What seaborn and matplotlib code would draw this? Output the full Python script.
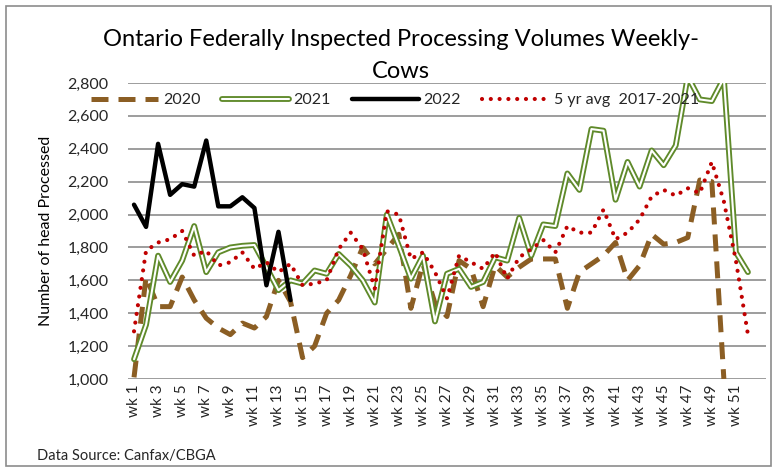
import numpy as np
import pandas as pd
import matplotlib
matplotlib.use("Agg")
import matplotlib.pyplot as plt
from matplotlib.lines import Line2D
from matplotlib.patches import Rectangle
from matplotlib.legend_handler import HandlerTuple
from matplotlib.ticker import FuncFormatter
import seaborn as sns

# weekly volumes (head)
vol_2020 = [1010, 1620, 1440, 1440, 1620, 1480, 1370, 1310, 1270, 1340,
            1310, 1380, 1600, 1470, 1130, 1200, 1400, 1480, 1630, 1800,
            1700, 1790, 1880, 1430, 1700, 1460, 1380, 1720, 1670, 1440,
            1690, 1620, 1680, 1730, 1730, 1730, 1430, 1650, 1700, 1750,
            1830, 1600, 1690, 1880, 1820, 1830, 1860, 2210, 2200, 1000]
vol_2021 = [1120, 1330, 1750, 1590, 1720, 1930, 1650, 1770, 1800, 1810,
            1815, 1680, 1540, 1600, 1580, 1660, 1640, 1760, 1690, 1600,
            1465, 2000, 1810, 1610, 1750, 1350, 1640, 1670, 1560, 1590,
            1740, 1720, 1980, 1750, 1940, 1930, 2250, 2150, 2520, 2510,
            2090, 2320, 2170, 2390, 2300, 2420, 2840, 2700, 2690, 2830,
            1770, 1650]
vol_2022 = [2060, 1925, 2430, 2120, 2185, 2170, 2450, 2050, 2050, 2105,
            2040, 1570, 1895, 1480]
avg_5yr = [1290, 1780, 1830, 1850, 1900, 1750, 1780, 1690, 1710, 1770,
           1670, 1710, 1650, 1700, 1570, 1580, 1600, 1790, 1890, 1790,
           1550, 2020, 2000, 1730, 1770, 1650, 1490, 1750, 1710, 1670,
           1770, 1610, 1740, 1790, 1845, 1770, 1930, 1890, 1890, 2030,
           1850, 1890, 1970, 2110, 2150, 2115, 2160, 2130, 2320, 2080,
           1720, 1270]
week_labels = [f"wk {i}" for i in range(1, 53)]

sns.set_theme(style="white")
plt.rcParams['font.family'] = ['Lato', 'DejaVu Sans']

W, H = 777, 468
fig = plt.figure(figsize=(W / 100, H / 100), dpi=100)
ax = fig.add_axes([128 / W, 1 - 379 / H, (766 - 128) / W, (379 - 83) / H])

brown = '#8B5E24'
green = '#5F8A2A'
red = '#C00000'

sns.lineplot(x=np.arange(len(vol_2020)), y=vol_2020, ax=ax, color=brown, lw=3.6,
             linestyle=(0, (3.4, 2.0)), dash_capstyle='butt', zorder=3)
sns.lineplot(x=np.arange(len(vol_2021)), y=vol_2021, ax=ax, color=green, lw=4.2,
             zorder=4)
sns.lineplot(x=np.arange(len(vol_2021)), y=vol_2021, ax=ax, color='white', lw=1.5,
             zorder=4.1)
sns.lineplot(x=np.arange(len(vol_2022)), y=vol_2022, ax=ax, color='black', lw=3.2,
             zorder=5)
sns.lineplot(x=np.arange(len(avg_5yr)), y=avg_5yr, ax=ax, color=red, lw=3.0,
             linestyle=(0, (0.01, 2.1)), dash_capstyle='round', zorder=6)

ax.set_xlim(-0.5, 52.5)
ax.set_ylim(1000, 2800)
ax.set_yticks(np.arange(1000, 2801, 200))
ax.yaxis.set_major_formatter(FuncFormatter(lambda v, p: f"{int(v):,}"))
ax.set_xticks(np.arange(0, 52, 2))
ax.set_xticklabels(week_labels[::2], rotation=90, fontsize=11, color='#262626')
ax.tick_params(axis='y', labelsize=11.5, labelcolor='#262626', length=0, pad=14)
ax.tick_params(axis='x', length=0, pad=4)
ax.grid(axis='y', color='#8C8C8C', lw=1.2)
ax.grid(axis='x', visible=False)
ax.set_axisbelow(True)
sns.despine(ax=ax, left=True, bottom=True)
ax.set_xlabel('')
ax.set_ylabel('Number of head Processed', fontsize=11.5, color='#000000', labelpad=10)

fig.text(401 / W, 1 - 40 / H, 'Ontario Federally Inspected Processing Volumes Weekly-',
         ha='center', va='center', fontsize=17, color='#000000')
fig.text(401 / W, 1 - 72 / H, 'Cows', ha='center', va='center', fontsize=17,
         color='#000000')

h2020 = Line2D([], [], color=brown, lw=3.6, linestyle=(0, (3.4, 2.0)))
h2021 = (Line2D([], [], color=green, lw=4.2), Line2D([], [], color='white', lw=1.5))
h2022 = Line2D([], [], color='black', lw=3.2)
havg = Line2D([], [], color=red, lw=3.0, linestyle=(0, (0.01, 2.1)),
              dash_capstyle='round')
fig.legend([h2020, h2021, h2022, havg], ['2020', '2021', '2022', '5 yr avg  2017-2021'],
           handler_map={tuple: HandlerTuple(ndivide=1)},
           loc='center left', bbox_to_anchor=(85 / W, 1 - 100 / H), ncol=4,
           frameon=False, fontsize=11.5, handlelength=4.2, handletextpad=0.3,
           columnspacing=1.3, borderaxespad=0)

fig.text(37 / W, 1 - 456 / H, 'Data Source: Canfax/CBGA', ha='left', va='center',
         fontsize=10.5, color='#262626')

fig.patches.append(Rectangle((6 / W, 2 / H), 765 / W, 460 / H, transform=fig.transFigure,
                             fill=False, edgecolor='#8C8C8C', lw=1.2))

fig.savefig('out.png', dpi=100)
